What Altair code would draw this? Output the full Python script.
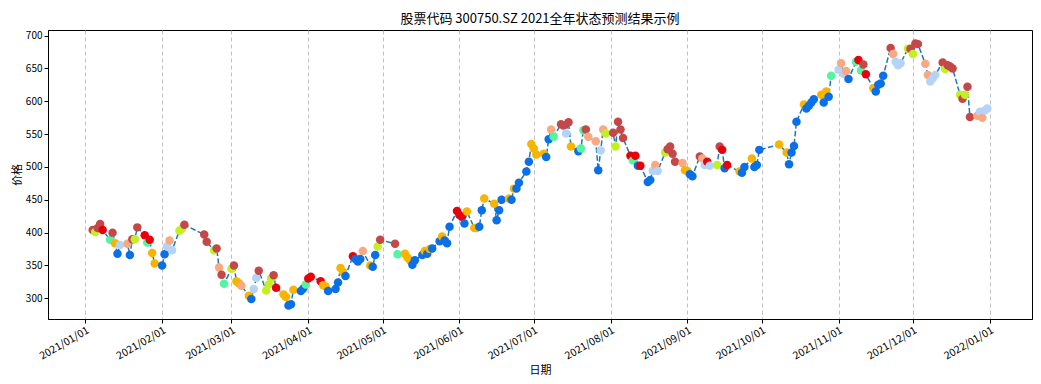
import altair as alt
import pandas as pd

# --- data (close price and predicted state per trading day) ---
jan_days = [4, 5, 6, 7, 8, 11, 12, 13, 14, 15, 18, 19, 20, 21, 22, 25, 26, 27, 28, 29]
jan_vals = [404, 401, 407, 413, 404, 389, 400, 384, 368, 381, 383, 366, 390, 390, 408, 396, 385, 389, 369, 353]
jan_state = ["DR", "YG", "DR", "DR", "R", "MG", "DR", "O", "B", "LB", "S", "B", "DR", "YG", "DR", "R", "MG", "R", "O", "O"]

feb_days = [1, 2, 3, 4, 5, 8, 9, 10, 18, 19, 22, 23, 24, 25, 26]
feb_vals = [350, 367, 379, 388, 373, 403, 406, 412, 397, 386, 373, 376, 347, 336, 322]
feb_state = ["B", "B", "LB", "S", "LB", "YG", "YG", "DR", "DR", "DR", "YG", "DR", "S", "DR", "MG"]

mar_days = [1, 2, 3, 4, 5, 8, 9, 10, 11, 12, 15, 16, 17, 18, 19, 22, 23, 24, 25, 26, 29, 30, 31]
mar_vals = [345, 350, 326, 323, 319, 304, 299, 314, 331, 342, 312, 321, 330, 335, 316, 306, 302, 289, 291, 313, 311, 315, 321]
mar_state = ["YG", "DR", "O", "O", "S", "O", "B", "LB", "LB", "DR", "YG", "YG", "YG", "DR", "R", "O", "O", "B", "B", "O", "B", "B", "MG"]

apr_days = [1, 2, 6, 7, 8, 9, 12, 13, 14, 15, 16, 19, 20, 21, 22, 23, 26, 27, 28, 29, 30]
apr_vals = [330, 333, 326, 320, 318, 311, 314, 324, 346, 340, 334, 364, 360, 356, 360, 372, 350, 348, 366, 379, 389]
apr_state = ["R", "R", "R", "O", "O", "B", "B", "B", "O", "O", "B", "R", "B", "B", "B", "S", "O", "B", "B", "YG", "DR"]

may_days = [6, 7, 10, 11, 12, 13, 14, 17, 18, 19, 20, 21, 24, 25, 26, 27, 28, 31]
may_vals = [383, 367, 368, 362, 358, 351, 358, 366, 372, 368, 375, 376, 387, 394, 388, 384, 409, 433]
may_state = ["DR", "MG", "O", "O", "O", "B", "B", "B", "O", "B", "O", "B", "B", "O", "B", "B", "B", "R"]

jun_days = [1, 2, 3, 4, 7, 8, 9, 10, 11, 15, 16, 17, 18, 21, 22, 23, 24, 25, 28, 29, 30]
jun_vals = [427, 424, 414, 432, 407, 407, 409, 434, 452, 444, 419, 434, 450, 452, 450, 467, 467, 476, 493, 508, 535]
jun_state = ["R", "R", "B", "O", "O", "O", "B", "B", "O", "O", "B", "B", "B", "O", "B", "O", "B", "B", "B", "B", "O"]

jul_days = [1, 2, 5, 6, 7, 8, 9, 12, 13, 14, 15, 16, 19, 20, 21, 22, 23, 26, 27, 28, 29, 30]
jul_vals = [528, 519, 520, 515, 542, 557, 546, 565, 563, 551, 568, 531, 524, 528, 556, 557, 546, 539, 495, 525, 557, 551]
jul_state = ["O", "O", "O", "B", "B", "S", "MG", "DR", "DR", "LB", "DR", "O", "B", "MG", "MG", "DR", "S", "S", "B", "LB", "S", "YG"]

aug_days = [2, 3, 4, 5, 6, 9, 10, 11, 12, 13, 16, 17, 18, 19, 20, 23, 24, 25, 26, 27, 30, 31]
aug_vals = [552, 531, 569, 557, 544, 517, 510, 517, 502, 502, 477, 480, 494, 503, 494, 522, 527, 531, 520, 508, 506, 495]
aug_state = ["DR", "YG", "DR", "DR", "DR", "R", "MG", "R", "B", "R", "B", "B", "LB", "S", "LB", "YG", "DR", "DR", "DR", "DR", "S", "O"]

sep_days = [1, 2, 3, 6, 7, 8, 9, 10, 13, 14, 15, 16, 17, 22, 23, 24, 27, 28, 29, 30]
sep_vals = [494, 489, 486, 516, 513, 503, 508, 502, 503, 531, 526, 498, 503, 493, 491, 500, 513, 500, 503, 526]
sep_state = ["O", "B", "B", "DR", "S", "LB", "R", "LB", "YG", "DR", "R", "B", "R", "O", "B", "B", "O", "B", "B", "B"]

oct_days = [8, 11, 12, 13, 14, 15, 18, 19, 20, 21, 22, 25, 26, 27, 28, 29]
oct_vals = [534, 522, 504, 522, 532, 569, 595, 589, 593, 598, 603, 610, 598, 615, 607, 639]
oct_state = ["O", "O", "B", "B", "B", "B", "O", "B", "B", "B", "B", "O", "B", "O", "B", "MG"]

nov_days = [1, 2, 3, 4, 5, 8, 9, 10, 11, 12, 15, 16, 17, 18, 19, 22, 23, 24, 25, 26, 29, 30]
nov_vals = [648, 658, 642, 646, 634, 660, 663, 647, 656, 641, 620, 615, 625, 627, 639, 681, 672, 660, 655, 658, 680, 680]
nov_state = ["LB", "S", "LB", "S", "B", "MG", "R", "MG", "DR", "R", "O", "B", "B", "B", "B", "DR", "S", "LB", "LB", "LB", "YG", "DR"]

dec_days = [1, 2, 3, 6, 7, 8, 9, 10, 13, 14, 15, 16, 17, 20, 21, 22, 23, 24, 27, 28, 29, 30, 31]
dec_vals = [672, 688, 687, 657, 640, 630, 635, 640, 659, 649, 655, 653, 650, 610, 604, 610, 622, 576, 578, 584, 575, 586, 589]
dec_state = ["YG", "DR", "DR", "S", "S", "LB", "LB", "LB", "DR", "YG", "DR", "DR", "DR", "YG", "DR", "YG", "DR", "DR", "S", "LB", "S", "LB", "LB"]

state_names = ["B", "LB", "R", "DR", "O", "S", "YG", "MG"]
state_colors = ["#0b6fe8", "#b4d3f7", "#e8000b", "#c44848", "#f7b500", "#f9a882", "#c2f025", "#52f5a0"]

months = [
    (1, jan_days, jan_vals, jan_state), (2, feb_days, feb_vals, feb_state),
    (3, mar_days, mar_vals, mar_state), (4, apr_days, apr_vals, apr_state),
    (5, may_days, may_vals, may_state), (6, jun_days, jun_vals, jun_state),
    (7, jul_days, jul_vals, jul_state), (8, aug_days, aug_vals, aug_state),
    (9, sep_days, sep_vals, sep_state), (10, oct_days, oct_vals, oct_state),
    (11, nov_days, nov_vals, nov_state), (12, dec_days, dec_vals, dec_state),
]
rows = []
for m, days, vals, sts in months:
    for d, v, s in zip(days, vals, sts):
        rows.append({"date": f"2021-{m:02d}-{d:02d}", "close": v, "state": s})
df = pd.DataFrame(rows)

FONT = "Noto Sans CJK SC"

x_enc = alt.X(
    "date:T",
    scale=alt.Scale(
        type="utc",
        nice=False,
        domain=[
            alt.DateTime(year=2020, month=12, date=16, hours=23, utc=True),
            alt.DateTime(year=2022, month=1, date=18, hours=1, utc=True),
        ],
    ),
    axis=alt.Axis(
        values=[alt.DateTime(year=2021, month=m, date=1, utc=True) for m in range(1, 13)]
        + [alt.DateTime(year=2022, month=1, date=1, utc=True)],
        format="%Y/%m/%d",
        labelAngle=330,
        labelAlign="right",
        labelBaseline="top",
        labelPadding=2,
        labelFontSize=10.5,
        grid=True,
        gridDash=[4, 3],
        gridColor="#b0b0b0",
        gridWidth=0.8,
        title="日期",
        titlePadding=3,
    ),
)
y_enc = alt.Y(
    "close:Q",
    scale=alt.Scale(domain=[268.5, 708.5], nice=False, zero=False),
    axis=alt.Axis(values=list(range(300, 701, 50)), grid=False, title="价格", titlePadding=3),
)

base = alt.Chart(df)
line = base.mark_line(strokeDash=[5.5, 2.4], strokeWidth=1.5, color="#1f77b4").encode(x=x_enc, y=y_enc)
pts = base.mark_circle(size=72, opacity=1).encode(
    x=x_enc,
    y=y_enc,
    color=alt.Color("state:N", scale=alt.Scale(domain=state_names, range=state_colors), legend=None),
)

chart = (
    alt.layer(line, pts)
    .properties(
        width=1025,
        height=368,
        autosize=alt.AutoSizeParams(type="fit", contains="padding"),
        title=alt.TitleParams(
            "股票代码 300750.SZ 2021全年状态预测结果示例",
            fontSize=13,
            fontWeight="normal",
            font=FONT,
            offset=4,
        ),
    )
    .configure(font=FONT, padding={"left": 3, "top": 5, "right": 1, "bottom": 0})
    .configure_view(stroke="black", strokeWidth=1)
    .configure_axis(
        domainColor="black",
        tickColor="black",
        labelColor="black",
        titleColor="black",
        labelFont=FONT,
        titleFont=FONT,
        labelFontSize=10,
        titleFontSize=11,
        titleFontWeight="normal",
        tickSize=4,
    )
)

chart.save("out.html", embed_options={"renderer": "svg", "actions": False})
